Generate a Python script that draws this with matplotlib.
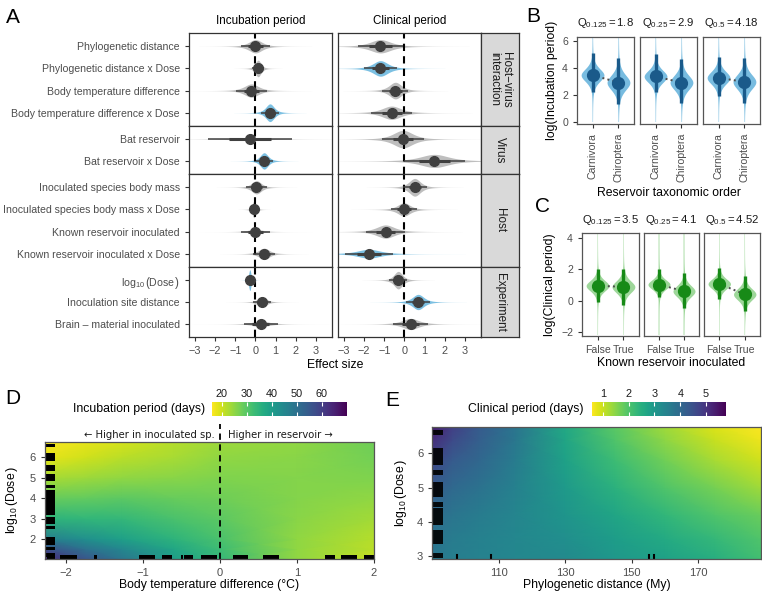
import numpy as np
import matplotlib
matplotlib.use("Agg")
import matplotlib.pyplot as plt

plt.rcParams['font.family'] = ['Liberation Sans', 'DejaVu Sans']
plt.rcParams['mathtext.fontset'] = 'custom'
plt.rcParams['mathtext.rm'] = 'Liberation Sans'
plt.rcParams['mathtext.it'] = 'Liberation Sans:italic'
plt.rcParams['axes.unicode_minus'] = True

# ---------------- data ----------------
# panel A: posterior effect sizes (median, 95% half-width, slab height, significant?)
group_names = ["Host\u2212virus\ninteraction", "Virus", "Host", "Experiment"]
group_sizes = [4, 2, 4, 3]
LOG_DOSE = r"$\log_{10}\left(\mathrm{Dose}_{\,}^{\,}\right)$"
terms = ["Phylogenetic distance", "Phylogenetic distance x Dose",
         "Body temperature difference", "Body temperature difference x Dose",
         "Bat reservoir", "Bat reservoir x Dose",
         "Inoculated species body mass", "Inoculated species body mass x Dose",
         "Known reservoir inoculated", "Known reservoir inoculated x Dose",
         LOG_DOSE, "Inoculation site distance",
         "Brain \u2013 material inoculated"]
inc_med = [0.0, 0.13, -0.2, 0.72, -0.28, 0.43, 0.05, -0.07, 0.0, 0.43, -0.28, 0.33, 0.27]
inc_w = [0.7, 0.3, 0.75, 0.45, 2.1, 0.42, 0.5, 0.2, 0.7, 0.55, 0.12, 0.45, 0.85]
inc_peak = [0.6, 0.75, 0.6, 0.8, 0.08, 0.75, 0.6, 0.75, 0.2, 0.5, 0.95, 0.45, 0.25]
inc_sig = [0, 0, 0, 1, 0, 1, 0, 0, 0, 0, 1, 0, 0]
clin_med = [-1.19, -1.19, -0.45, -0.64, -0.07, 1.49, 0.51, -0.03, -0.94, -1.77, -0.31, 0.68, 0.3]
clin_w = [1.1, 0.8, 0.65, 1.0, 1.03, 1.5, 0.6, 0.66, 0.95, 1.2, 0.45, 0.6, 0.87]
clin_peak = [0.6, 0.7, 0.75, 0.6, 0.8, 0.6, 0.8, 0.6, 0.6, 0.4, 0.8, 0.7, 0.5]
clin_sig = [0, 1, 0, 0, 0, 0, 0, 0, 0, 1, 0, 1, 0]

# panel B: log(incubation period) by reservoir order
b_titles = [r"$\mathregular{Q_{0.125} = 1.8}$", r"$\mathregular{Q_{0.25} = 2.9}$",
            r"$\mathregular{Q_{0.5} = 4.18}$"]
b_cats = ["Carnivora", "Chiroptera"]
b_med = [[3.45, 2.9], [3.35, 2.9], [3.25, 2.95]]
b_lo = [[2.2, 1.3], [2.2, 1.35], [1.9, 1.35]]
b_hi = [[5.1, 4.7], [5.0, 4.65], [4.8, 4.7]]
b_tail = [0.0, 6.2]

# panel C: log(clinical period) by known reservoir inoculated
c_titles = [r"$\mathregular{Q_{0.125} = 3.5}$", r"$\mathregular{Q_{0.25} = 4.1}$",
            r"$\mathregular{Q_{0.5} = 4.52}$"]
c_cats = ["False", "True"]
c_med = [[0.95, 0.88], [1.03, 0.6], [1.07, 0.4]]
c_lo = [[-0.1, -0.3], [0.2, -0.5], [0.1, -0.7]]
c_hi = [[2.0, 2.05], [2.05, 1.75], [2.1, 1.55]]
c_tail = [-2.2, 4.3]

# panel D: incubation period (days) over body temp difference x log10 dose
d_x = [-2.27, -1.75, -1.27, -0.6, 0.0, 1.0, 2.0]
d_y = [1.0, 1.5, 2.0, 3.0, 4.0, 5.0, 6.0, 6.75]
d_inc = [[64, 56, 49, 40, 34, 25, 20.5],
         [57, 50, 45, 38, 33, 25, 21.5],
         [47, 43, 39.5, 35, 31.5, 25, 22],
         [35, 34.5, 34, 31.5, 29.5, 25.5, 23.5],
         [28.5, 29, 29.5, 28.5, 28, 26, 25],
         [23, 24, 25, 25.5, 26.5, 26, 26.5],
         [18, 20, 21.5, 23, 25, 25.5, 27.5],
         [16.5, 18, 19.5, 22, 24, 25, 28]]
d_rug_y = [(6.52, 6.65), (5.8, 6.2), (5.31, 5.64), (4.82, 5.18), (4.5, 4.66),
           (3.18, 4.41), (2.72, 3.1), (2.5, 2.66), (1.7, 2.11), (1.46, 1.62), (1.13, 1.3)]
d_rug_x = [(-2.25, -2.14), (-2.07, -1.86), (-1.64, -1.6), (-1.05, -0.84), (-0.75, -0.62),
           (-0.5, -0.48), (-0.47, -0.35), (-0.25, -0.04), (0.17, 0.37), (0.56, 0.77),
           (1.36, 1.49), (1.57, 1.78), (1.87, 2.0)]

# panel E: clinical period (days) over phylogenetic distance x log10 dose
e_x = [90, 96, 104, 115, 130, 145, 160, 175, 189]
e_y = [2.9, 3.5, 4.2, 5.0, 5.8, 6.4, 6.78]
e_clin = [[3.7, 3.55, 3.45, 3.35, 3.3, 3.0, 2.8, 2.5, 2.15],
          [3.8, 3.6, 3.5, 3.35, 3.2, 2.9, 2.6, 2.3, 2.0],
          [3.95, 3.75, 3.6, 3.4, 3.05, 2.7, 2.35, 2.0, 1.75],
          [4.3, 4.0, 3.8, 3.5, 2.95, 2.45, 2.0, 1.65, 1.3],
          [4.65, 4.3, 4.05, 3.6, 2.8, 2.2, 1.7, 1.25, 0.95],
          [5.1, 4.6, 4.2, 3.7, 2.7, 2.0, 1.45, 1.0, 0.7],
          [5.4, 4.8, 4.3, 3.75, 2.65, 1.9, 1.3, 0.85, 0.6]]
e_rug_y = [(6.54, 6.68), (5.66, 6.15), (5.36, 5.51), (4.73, 5.17), (4.42, 4.58),
           (3.9, 4.39), (3.36, 3.75), (2.95, 3.07)]
e_rug_x = [97.4, 107.8, 155.2, 156.9]

# ---------------- figure ----------------
W, H = 762, 593
fig = plt.figure(figsize=(W / 100, H / 100), dpi=100)

TICK_C = "#4D4D4D"
EDGE_C = "#333333"
PT_C = "#404040"
SLAB_C = ["#BEBEBE", "#7CC0E2"]


def px_axes(x0, y0, x1, y1):
    # axes from pixel box (top-left origin)
    return fig.add_axes([x0 / W, 1 - y1 / H, (x1 - x0) / W, (y1 - y0) / H])


def fig_text(x, y, s, **kw):
    return fig.text(x / W, 1 - y / H, s, **kw)


def style_spines(ax, c=EDGE_C, lw=0.9):
    for sp in ax.spines.values():
        sp.set_color(c)
        sp.set_linewidth(lw)


def eye(ax, y, med, w, peak, color, xlim):
    s = w / 2.0
    xs = np.linspace(max(xlim[0], med - 8 * s), min(xlim[1], med + 8 * s), 400)
    z = (xs - med) / s
    h = 0.5 * peak * (1 + z ** 2 / 3) ** -2
    ax.fill_between(xs, y - h, y + h, color=color, lw=0, zorder=2)
    ax.plot([med - w, med + w], [y, y], color=PT_C, lw=1.1, solid_capstyle='butt', zorder=3)
    ax.plot([med - 0.5 * w, med + 0.5 * w], [y, y], color=PT_C, lw=2.2,
            solid_capstyle='butt', zorder=3)
    ax.plot(med, y, 'o', ms=7, color=PT_C, zorder=4)


# ===== A =====
A_XLIM = (-3.3, 3.8)
bounds = [33, 126, 174, 267, 337]
cols = [(189, 332, inc_med, inc_w, inc_peak, inc_sig),
        (338, 481, clin_med, clin_w, clin_peak, clin_sig)]
start = 0
for g, n in enumerate(group_sizes):
    y0, y1 = bounds[g], bounds[g + 1]
    last = g == len(group_sizes) - 1
    for ci, (x0, x1, med, w, peak, sig) in enumerate(cols):
        ax = px_axes(x0, y0, x1, y1)
        ax.set_xlim(*A_XLIM)
        ax.set_ylim(n - 0.4, -0.6)
        ax.axvline(0, color='black', lw=1.5, ls=(0, (3.5, 2.5)), zorder=2.5)
        for j in range(n):
            i = start + j
            eye(ax, j, med[i], w[i], peak[i], SLAB_C[sig[i]], A_XLIM)
        style_spines(ax)
        if ci == 0:
            ax.set_yticks(range(n))
            ax.set_yticklabels(terms[start:start + n])
            ax.tick_params(axis='y', length=3, color=EDGE_C, labelsize=7.55, labelcolor=TICK_C)
        else:
            ax.set_yticks([])
        ax.set_xticks(range(-3, 4))
        if last:
            ax.tick_params(axis='x', length=3, color=EDGE_C, labelsize=7.8, labelcolor=TICK_C)
        else:
            ax.tick_params(axis='x', bottom=False, labelbottom=False)
    sax = px_axes(481, y0, 519, y1)
    sax.set_facecolor('#D9D9D9')
    sax.set_xticks([])
    sax.set_yticks([])
    style_spines(sax)
    sax.text(0.5, 0.5, group_names[g], rotation=-90, ha='center', va='center',
             fontsize=8.4, color='#1A1A1A', transform=sax.transAxes, linespacing=0.95)
    start += n

fig_text(260.5, 21, "Incubation period", ha='center', va='center', fontsize=8.4)
fig_text(409.5, 21, "Clinical period", ha='center', va='center', fontsize=8.4)
fig_text(335, 365, "Effect size", ha='center', va='center', fontsize=8.8)


# ===== B and C =====
def violin_panel(ax, meds, los, his, tail, light, dark):
    ys = np.linspace(tail[0], tail[1], 500)
    for k in range(2):
        x = k + 1
        s = (his[k] - los[k]) / 5.5
        z = (ys - meds[k]) / s
        wd = 0.44 * (1 + z ** 2 / 4) ** -2.5
        ax.fill_betweenx(ys, x - 0.03, x + 0.03, color=light, alpha=0.4, lw=0)
        ax.fill_betweenx(ys, x - wd, x + wd, color=light, lw=0)
        ax.plot([x, x], [los[k], his[k]], color=dark, lw=2.4, solid_capstyle='butt')
    ax.plot([1, 2], meds, ':', color='#4D4D4D', lw=1.4)
    ax.plot([1, 2], meds, 'o', ms=8.5, color=dark)


def violin_row(boxes, ytop, ybot, ylim, yticks, titles, meds, los, his, tail,
               cats, rot, light, dark, title_y):
    for p, (x0, x1) in enumerate(boxes):
        ax = px_axes(x0, ytop, x1, ybot)
        violin_panel(ax, meds[p], los[p], his[p], tail, light, dark)
        ax.set_xlim(0.4, 2.6)
        ax.set_ylim(*ylim)
        ax.set_xticks([1, 2])
        ax.set_xticklabels(cats, rotation=rot)
        ax.tick_params(axis='x', length=3, color=EDGE_C, labelsize=7.6, labelcolor=TICK_C)
        if p == 0:
            ax.set_yticks(yticks)
            ax.tick_params(axis='y', length=3, color=EDGE_C, labelsize=7.6, labelcolor=TICK_C)
        else:
            ax.set_yticks([])
        style_spines(ax, '#555555')
        fig_text((x0 + x1) / 2, title_y, titles[p], ha='center', va='center', fontsize=8.2,
                 color='#1A1A1A')


violin_row([(577, 634), (640, 697), (703, 760)], 37, 124, (-0.17, 6.27), [0, 2, 4, 6],
           b_titles, b_med, b_lo, b_hi, b_tail, b_cats, 90, '#78BCE0', '#1A5A8A', 23)
fig_text(552.5, 80.5, "log(Incubation period)", rotation=90, ha='center', va='center',
         fontsize=8.8)
fig_text(668.5, 193, "Reservoir taxonomic order", ha='center', va='center', fontsize=8.8)

violin_row([(582, 639), (644, 699), (704, 760)], 233, 335.7, (-2.26, 4.34), [-2, 0, 2, 4],
           c_titles, c_med, c_lo, c_hi, c_tail, c_cats, 0, '#9ED79A', '#178A17', 220)
fig_text(550, 284.5, "log(Clinical period)", rotation=90, ha='center', va='center',
         fontsize=8.8)
fig_text(671, 363, "Known reservoir inoculated", ha='center', va='center', fontsize=8.8)


# ===== D and E =====
def heat_panel(box, xs, ys, vals, vmin, vmax, xlim, ylim, cbox, cticks, clabel, clabel_x):
    ax = px_axes(*box)
    mesh = ax.pcolormesh(xs, ys, np.array(vals), shading='gouraud', cmap='viridis_r',
                         vmin=vmin, vmax=vmax)
    ax.set_xlim(*xlim)
    ax.set_ylim(*ylim)
    style_spines(ax, '#555555')
    ax.tick_params(length=3, color=EDGE_C, labelsize=8, labelcolor=TICK_C)
    cax = px_axes(*cbox)
    cb = fig.colorbar(mesh, cax=cax, orientation='horizontal')
    cb.set_ticks(cticks)
    cb.outline.set_visible(False)
    cax.tick_params(axis='x', top=True, bottom=True, labeltop=True, labelbottom=False,
                    direction='in', length=3, color='white', width=0.8,
                    labelsize=7.8, labelcolor='#1A1A1A', pad=2)
    fig_text(clabel_x, 409, clabel, ha='right', va='center', fontsize=8.8)
    return ax


ax = heat_panel((45, 442, 374, 559), d_x, d_y, d_inc, 16, 70, (-2.27, 2.0), (1.02, 6.75),
                (211.7, 402, 346.7, 415.7), [20, 30, 40, 50, 60],
                "Incubation period (days)", 205)
for a, b in d_rug_y:
    ax.axhspan(a, b, xmin=0, xmax=0.03, color='black', lw=0)
for a, b in d_rug_x:
    ax.axvspan(a, b, ymin=0, ymax=0.035, color='black', lw=0)
ax.plot([0, 0], [1.02, 7.65], color='black', lw=1.3, ls=(0, (3.5, 2.5)), clip_on=False)
ax.set_xticks([-2, -1, 0, 1, 2])
ax.set_yticks([2, 3, 4, 5, 6])
ax.text(-0.07, 7.09, "\u2190 Higher in inoculated sp.", ha='right', va='center',
        fontsize=7.2, family='DejaVu Sans', color='#1A1A1A')
ax.text(0.1, 7.09, "Higher in reservoir \u2192", ha='left', va='center',
        fontsize=7.2, family='DejaVu Sans', color='#1A1A1A')
fig_text(209.5, 585, "Body temperature difference (\u00b0C)", ha='center', va='center',
         fontsize=8.8)
fig_text(13, 500, LOG_DOSE, rotation=90, ha='center', va='center', fontsize=8.8)

ax = heat_panel((432.3, 426.7, 761, 559.3), e_x, e_y, e_clin, 0.57, 5.76, (90, 189),
                (2.9, 6.78), (591.7, 402, 725.7, 416), [1, 2, 3, 4, 5],
                "Clinical period (days)", 584)
for a, b in e_rug_y:
    ax.axhspan(a, b, xmin=0, xmax=0.033, color='black', lw=0, alpha=0.9)
for xv in e_rug_x:
    ax.axvline(xv, ymin=0, ymax=0.03, color='black', lw=1.5)
ax.set_xticks([110, 130, 150, 170])
ax.set_yticks([3, 4, 5, 6])
fig_text(596.5, 585, "Phylogenetic distance (My)", ha='center', va='center', fontsize=8.8)
fig_text(401.7, 493, LOG_DOSE, rotation=90, ha='center', va='center', fontsize=8.8)

# panel letters
for lab, x, y in [("A", 12.5, 17.5), ("B", 533, 16), ("C", 543, 206), ("D", 13, 399),
                  ("E", 392, 400)]:
    fig_text(x, y, lab, ha='center', va='center', fontsize=15)

fig.savefig("out.png", dpi=100)
